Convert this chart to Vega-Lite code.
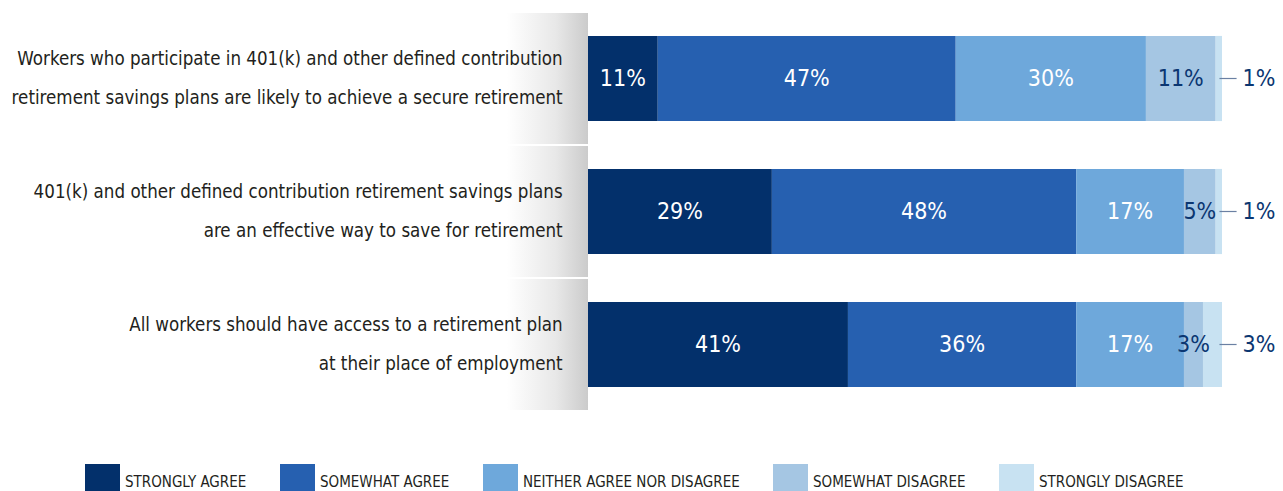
{
  "$schema": "https://vega.github.io/schema/vega-lite/v6.json",
  "width": 1283,
  "height": 491,
  "autosize": {"type": "none"},
  "padding": 0,
  "background": "white",
  "config": {
    "view": {"stroke": null},
    "font": "DejaVu Sans Condensed"
  },
  "data": {
    "values": [
      {"question": "q1", "category": "STRONGLY AGREE", "order": 1, "value": 11},
      {"question": "q1", "category": "SOMEWHAT AGREE", "order": 2, "value": 47},
      {"question": "q1", "category": "NEITHER AGREE NOR DISAGREE", "order": 3, "value": 30},
      {"question": "q1", "category": "SOMEWHAT DISAGREE", "order": 4, "value": 11},
      {"question": "q1", "category": "STRONGLY DISAGREE", "order": 5, "value": 1},
      {"question": "q2", "category": "STRONGLY AGREE", "order": 1, "value": 29},
      {"question": "q2", "category": "SOMEWHAT AGREE", "order": 2, "value": 48},
      {"question": "q2", "category": "NEITHER AGREE NOR DISAGREE", "order": 3, "value": 17},
      {"question": "q2", "category": "SOMEWHAT DISAGREE", "order": 4, "value": 5},
      {"question": "q2", "category": "STRONGLY DISAGREE", "order": 5, "value": 1},
      {"question": "q3", "category": "STRONGLY AGREE", "order": 1, "value": 41},
      {"question": "q3", "category": "SOMEWHAT AGREE", "order": 2, "value": 36},
      {"question": "q3", "category": "NEITHER AGREE NOR DISAGREE", "order": 3, "value": 17},
      {"question": "q3", "category": "SOMEWHAT DISAGREE", "order": 4, "value": 3},
      {"question": "q3", "category": "STRONGLY DISAGREE", "order": 5, "value": 3}
    ]
  },
  "datasets": {
    "questions": [
      {"question": "q1", "text": "Workers who participate in 401(k) and other defined contribution|retirement savings plans are likely to achieve a secure retirement"},
      {"question": "q2", "text": "401(k) and other defined contribution retirement savings plans|are an effective way to save for retirement"},
      {"question": "q3", "text": "All workers should have access to a retirement plan|at their place of employment"}
    ]
  },
  "transform": [
    {"stack": "value", "groupby": ["question"], "sort": [{"field": "order"}], "as": ["x0", "x1"]},
    {"calculate": "(datum.x0 + datum.x1) / 2", "as": "mid"},
    {"calculate": "datum.value + '%'", "as": "label"}
  ],
  "encoding": {
    "y": {
      "field": "question",
      "type": "nominal",
      "axis": null,
      "scale": {"domain": ["q1", "q2", "q3"], "range": [12, 411], "paddingInner": 0.015, "paddingOuter": 0.0075}
    }
  },
  "layer": [
    {
      "data": {"name": "questions"},
      "mark": {
        "type": "rect",
        "fill": {
          "gradient": "linear", "x1": 0, "x2": 1, "y1": 0, "y2": 0,
          "stops": [{"offset": 0, "color": "#ffffff"}, {"offset": 0.6, "color": "#e8e8e8"}, {"offset": 1, "color": "#cbcbcb"}]
        }
      },
      "encoding": {
        "x": {"datum": -12.8, "type": "quantitative", "scale": {"domain": [0, 100], "range": [588, 1222], "zero": false, "nice": false}, "axis": null},
        "x2": {"datum": 0}
      }
    },
    {
      "data": {"name": "questions"},
      "mark": {"type": "text", "align": "right", "baseline": "middle", "fontSize": 18.6, "lineBreak": "|", "lineHeight": 39, "dy": -19.5, "color": "#231f20"},
      "encoding": {
        "x": {"datum": -4, "type": "quantitative"},
        "y": {"field": "question", "type": "nominal", "bandPosition": 0.5},
        "text": {"field": "text"}
      }
    },
    {
      "mark": {"type": "bar", "height": {"band": 0.65}},
      "encoding": {
        "x": {"field": "x0", "type": "quantitative"},
        "x2": {"field": "x1"},
        "color": {
          "field": "category",
          "type": "nominal",
          "scale": {
            "domain": ["STRONGLY AGREE", "SOMEWHAT AGREE", "NEITHER AGREE NOR DISAGREE", "SOMEWHAT DISAGREE", "STRONGLY DISAGREE"],
            "range": ["#03306b", "#2660b0", "#6ea8db", "#a5c6e3", "#c8e2f2"]
          },
          "legend": {
            "title": null,
            "orient": "none",
            "direction": "horizontal",
            "legendX": 85,
            "legendY": 464,
            "padding": 0,
            "symbolType": "square",
            "symbolSize": 1225,
            "symbolStrokeWidth": 0,
            "symbolOpacity": 1,
            "labelFont": "DejaVu Sans Condensed",
            "labelFontSize": 15,
            "labelColor": "#231f20",
            "labelOffset": 5,
            "labelLimit": 300,
            "columnPadding": 33
          }
        }
      }
    },
    {
      "transform": [{"filter": "datum.order <= 4"}],
      "mark": {"type": "text", "align": "center", "baseline": "middle", "fontSize": 23},
      "encoding": {
        "x": {"field": "mid", "type": "quantitative"},
        "y": {"field": "question", "type": "nominal", "bandPosition": 0.5},
        "text": {"field": "label"},
        "color": {"condition": {"test": "datum.order == 4", "value": "#0b3671"}, "value": "#ffffff"}
      }
    },
    {
      "transform": [{"filter": "datum.order == 5"}],
      "mark": {"type": "rule", "color": "#6b80a3", "strokeWidth": 1.2},
      "encoding": {
        "x": {"datum": 99.6, "type": "quantitative"},
        "x2": {"datum": 102.3},
        "y": {"field": "question", "type": "nominal", "bandPosition": 0.5}
      }
    },
    {
      "transform": [{"filter": "datum.order == 5"}],
      "mark": {"type": "text", "align": "left", "baseline": "middle", "fontSize": 23, "color": "#0b3671", "dx": 6},
      "encoding": {
        "x": {"datum": 102.3, "type": "quantitative"},
        "y": {"field": "question", "type": "nominal", "bandPosition": 0.5},
        "text": {"field": "label"}
      }
    }
  ]
}
